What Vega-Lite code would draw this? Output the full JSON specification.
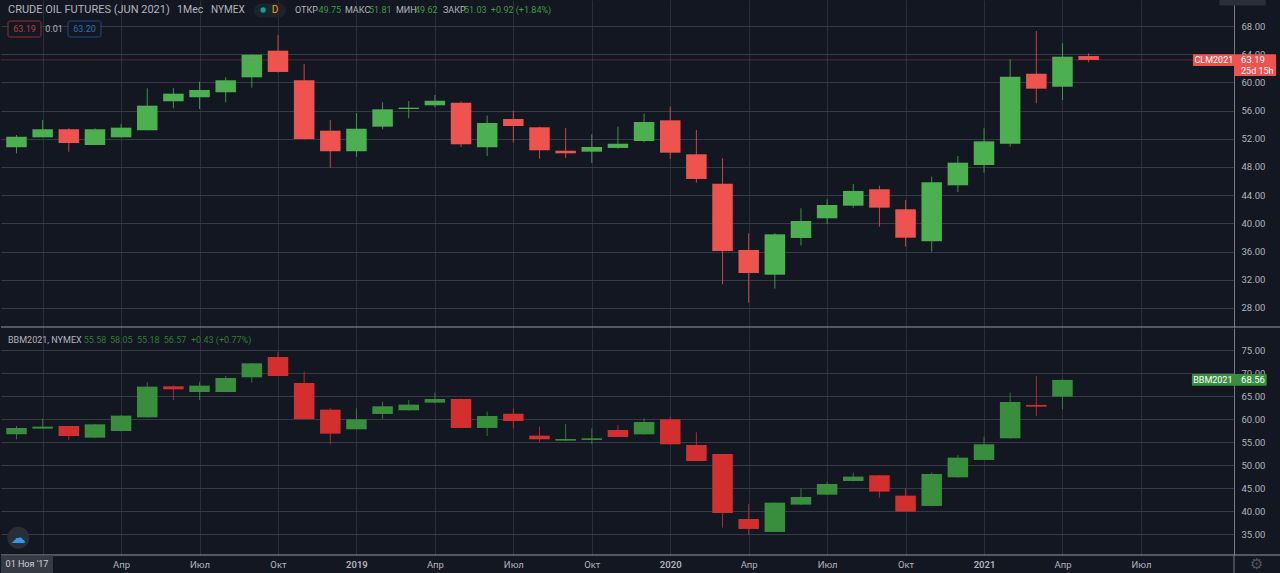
{
"$schema":"https://vega.github.io/schema/vega-lite/v6.json",
"background":"#131722",
"padding":0,
"spacing":1,
"bounds":"flush",
"resolve":{"scale":{"color":"independent"}},
"config":{"view":{"stroke":null},"font":"Roboto","text":{"font":"Roboto","fontSize":9,"align":"left","baseline":"middle"}},
"vconcat":[
{
"width":1233,"height":327,
"data":{"values":[
{"month":"2017-12","i":0,"open":50.79,"high":52.54,"low":49.94,"close":52.30,"dir":"up"},
{"month":"2018-01","i":1,"open":52.21,"high":54.67,"low":52.2,"close":53.35,"dir":"up"},
{"month":"2018-02","i":2,"open":53.35,"high":53.49,"low":50.17,"close":51.40,"dir":"down"},
{"month":"2018-03","i":3,"open":51.12,"high":53.49,"low":51.1,"close":53.35,"dir":"up"},
{"month":"2018-04","i":4,"open":52.21,"high":54.10,"low":52.2,"close":53.58,"dir":"up"},
{"month":"2018-05","i":5,"open":53.21,"high":59.16,"low":53.2,"close":56.70,"dir":"up"},
{"month":"2018-06","i":6,"open":57.32,"high":59.21,"low":56.33,"close":58.40,"dir":"up"},
{"month":"2018-07","i":7,"open":57.89,"high":60.10,"low":56.23,"close":58.92,"dir":"up"},
{"month":"2018-08","i":8,"open":58.60,"high":60.72,"low":57.18,"close":60.30,"dir":"up"},
{"month":"2018-09","i":9,"open":60.72,"high":63.95,"low":59.25,"close":63.93,"dir":"up"},
{"month":"2018-10","i":10,"open":64.50,"high":66.72,"low":61.4,"close":61.48,"dir":"down"},
{"month":"2018-11","i":11,"open":60.30,"high":62.61,"low":51.9,"close":51.97,"dir":"down"},
{"month":"2018-12","i":12,"open":53.15,"high":54.67,"low":47.90,"close":50.23,"dir":"down"},
{"month":"2019-01","i":13,"open":50.23,"high":55.66,"low":49.46,"close":53.43,"dir":"up"},
{"month":"2019-02","i":14,"open":53.72,"high":57.18,"low":53.35,"close":56.18,"dir":"up"},
{"month":"2019-03","i":15,"open":56.23,"high":57.36,"low":54.91,"close":56.41,"dir":"up"},
{"month":"2019-04","i":16,"open":56.75,"high":58.21,"low":56.47,"close":57.40,"dir":"up"},
{"month":"2019-05","i":17,"open":57.12,"high":57.26,"low":50.84,"close":51.22,"dir":"down"},
{"month":"2019-06","i":18,"open":50.80,"high":55.28,"low":49.56,"close":54.24,"dir":"up"},
{"month":"2019-07","i":19,"open":54.81,"high":55.99,"low":51.45,"close":53.82,"dir":"down"},
{"month":"2019-08","i":20,"open":53.63,"high":53.7,"low":49.18,"close":50.37,"dir":"down"},
{"month":"2019-09","i":21,"open":50.31,"high":53.53,"low":49.28,"close":49.94,"dir":"down"},
{"month":"2019-10","i":22,"open":50.17,"high":52.64,"low":48.57,"close":50.84,"dir":"up"},
{"month":"2019-11","i":23,"open":50.70,"high":53.72,"low":50.6,"close":51.30,"dir":"up"},
{"month":"2019-12","i":24,"open":51.69,"high":55.56,"low":51.5,"close":54.38,"dir":"up"},
{"month":"2020-01","i":25,"open":54.62,"high":56.55,"low":49.18,"close":50.03,"dir":"down"},
{"month":"2020-02","i":26,"open":49.80,"high":53.25,"low":45.77,"close":46.30,"dir":"down"},
{"month":"2020-03","i":27,"open":45.63,"high":49.23,"low":31.36,"close":36.09,"dir":"down"},
{"month":"2020-04","i":28,"open":36.23,"high":38.60,"low":28.75,"close":32.96,"dir":"down"},
{"month":"2020-05","i":29,"open":32.72,"high":38.6,"low":30.74,"close":38.45,"dir":"up"},
{"month":"2020-06","i":30,"open":37.93,"high":42.14,"low":36.89,"close":40.34,"dir":"up"},
{"month":"2020-07","i":31,"open":40.72,"high":43.42,"low":39.91,"close":42.61,"dir":"up"},
{"month":"2020-08","i":32,"open":42.51,"high":45.59,"low":42.23,"close":44.60,"dir":"up"},
{"month":"2020-09","i":33,"open":44.84,"high":45.35,"low":39.53,"close":42.23,"dir":"down"},
{"month":"2020-10","i":34,"open":42.00,"high":43.32,"low":36.70,"close":37.97,"dir":"down"},
{"month":"2020-11","i":35,"open":37.46,"high":46.62,"low":35.99,"close":45.83,"dir":"up"},
{"month":"2020-12","i":36,"open":45.40,"high":49.56,"low":44.45,"close":48.61,"dir":"up"},
{"month":"2021-01","i":37,"open":48.28,"high":53.49,"low":47.19,"close":51.64,"dir":"up"},
{"month":"2021-02","i":38,"open":51.30,"high":63.28,"low":50.88,"close":60.81,"dir":"up"},
{"month":"2021-03","i":39,"open":61.23,"high":67.29,"low":57.04,"close":59.11,"dir":"down"},
{"month":"2021-04","i":40,"open":59.39,"high":65.55,"low":57.50,"close":63.65,"dir":"up"},
{"month":"2021-05","i":41,"open":63.74,"high":64.13,"low":62.85,"close":63.19,"dir":"down"}
]},
"layer":[
{"mark":{"type":"rule","strokeWidth":1,"opacity":0.8},
 "encoding":{
  "x":{"field":"i","type":"quantitative","scale":{"domain":[-0.593,46.56],"nice":false,"zero":false,"padding":0},
   "axis":{"orient":"bottom","title":null,"tickCount":40,"values":[1,4,7,10,13,16,19,22,25,28,31,34,37,40,43],"labels":false,"ticks":false,"domain":false,"grid":true,"gridColor":"#2a2e39"}},
  "y":{"field":"low","type":"quantitative","scale":{"domain":[25.3,71.69],"nice":false,"zero":false,"padding":0},
   "axis":{"orient":"right","title":null,"tickCount":20,"values":[28,32,36,40,44,48,52,56,60,64,68],"format":".2f","labelOverlap":false,"labelFlush":false,"grid":true,"gridColor":"#363a45","domain":true,"domainColor":"#787b86","ticks":false,"labelColor":"#b2b5be","labelFontSize":9.5,"labelPadding":7,"labelFont":"Roboto"}},
  "y2":{"field":"high"},
  "color":{"field":"dir","type":"nominal","scale":{"domain":["up","down"],"range":["#4caf50","#ef5350"]},"legend":null}}},
{"mark":{"type":"bar","size":20.5},
 "encoding":{
  "x":{"field":"i","type":"quantitative"},
  "y":{"field":"open","type":"quantitative"},
  "y2":{"field":"close"},
  "color":{"field":"dir","type":"nominal"}}},
{"data":{"values":[{"series":"last"}]},"mark":{"type":"rule","color":"#ef5350","opacity":0.3},
 "encoding":{"y":{"datum":63.19,"type":"quantitative"}}},
{"data":{"values":[{"series":"sep"}]},"mark":{"type":"rule","color":"#9598a1"},
 "encoding":{"x":{"datum":-0.593,"type":"quantitative"},"x2":{"datum":48.36},"y":{"datum":25.3,"type":"quantitative"}}},
{"data":{"values":[{"series":"stub"}]},"mark":{"type":"rect","fill":"#2a2e39"},
 "encoding":{"x":{"datum":46.0,"type":"quantitative"},"x2":{"datum":47.78},"y":{"datum":71.69,"type":"quantitative"},"y2":{"datum":70.9}}},
{"data":{"values":[{"series":"pill"}]},"mark":{"type":"rect","fill":"#1e222d","cornerRadius":7},
 "encoding":{"x":{"datum":9.08,"type":"quantitative"},"x2":{"datum":10.3},"y":{"datum":71.2,"type":"quantitative"},"y2":{"datum":69.2}}},
{"data":{"values":[{"series":"dot"}]},"mark":{"type":"point","filled":true,"color":"#00a59a","size":28,"opacity":1},
 "encoding":{"x":{"datum":9.43,"type":"quantitative"},"y":{"datum":70.27,"type":"quantitative"}}},
{"data":{"values":[{"series":"t"}]},"mark":{"type":"text","color":"#ff9800","align":"center","fontSize":10},
 "encoding":{"x":{"datum":9.885,"type":"quantitative"},"y":{"datum":70.27,"type":"quantitative"},"text":{"value":"D"}}},
{"data":{"values":[{"series":"t"}]},"mark":{"type":"text","color":"#b2b5be","fontSize":11},
 "encoding":{"x":{"datum":-0.325,"type":"quantitative"},"y":{"datum":70.27,"type":"quantitative"},"text":{"value":"CRUDE OIL FUTURES (JUN 2021)"}}},
{"data":{"values":[{"series":"t"}]},"mark":{"type":"text","color":"#b2b5be","fontSize":10.5},
 "encoding":{"x":{"datum":6.14,"type":"quantitative"},"y":{"datum":70.27,"type":"quantitative"},"text":{"value":"1Мес"}}},
{"data":{"values":[{"series":"t"}]},"mark":{"type":"text","color":"#b2b5be","fontSize":10},
 "encoding":{"x":{"datum":7.44,"type":"quantitative"},"y":{"datum":70.27,"type":"quantitative"},"text":{"value":"NYMEX"}}},
{"data":{"values":[{"series":"t"}]},"mark":{"type":"text","color":"#b2b5be"},
 "encoding":{"x":{"datum":10.65,"type":"quantitative"},"y":{"datum":70.27,"type":"quantitative"},"text":{"value":"ОТКР"}}},
{"data":{"values":[{"series":"t"}]},"mark":{"type":"text","color":"#3f9a48"},
 "encoding":{"x":{"datum":11.55,"type":"quantitative"},"y":{"datum":70.27,"type":"quantitative"},"text":{"value":"49.75"}}},
{"data":{"values":[{"series":"t"}]},"mark":{"type":"text","color":"#b2b5be"},
 "encoding":{"x":{"datum":12.56,"type":"quantitative"},"y":{"datum":70.27,"type":"quantitative"},"text":{"value":"МАКС"}}},
{"data":{"values":[{"series":"t"}]},"mark":{"type":"text","color":"#3f9a48"},
 "encoding":{"x":{"datum":13.48,"type":"quantitative"},"y":{"datum":70.27,"type":"quantitative"},"text":{"value":"51.81"}}},
{"data":{"values":[{"series":"t"}]},"mark":{"type":"text","color":"#b2b5be"},
 "encoding":{"x":{"datum":14.51,"type":"quantitative"},"y":{"datum":70.27,"type":"quantitative"},"text":{"value":"МИН"}}},
{"data":{"values":[{"series":"t"}]},"mark":{"type":"text","color":"#3f9a48"},
 "encoding":{"x":{"datum":15.24,"type":"quantitative"},"y":{"datum":70.27,"type":"quantitative"},"text":{"value":"49.62"}}},
{"data":{"values":[{"series":"t"}]},"mark":{"type":"text","color":"#b2b5be"},
 "encoding":{"x":{"datum":16.31,"type":"quantitative"},"y":{"datum":70.27,"type":"quantitative"},"text":{"value":"ЗАКР"}}},
{"data":{"values":[{"series":"t"}]},"mark":{"type":"text","color":"#3f9a48"},
 "encoding":{"x":{"datum":17.11,"type":"quantitative"},"y":{"datum":70.27,"type":"quantitative"},"text":{"value":"51.03"}}},
{"data":{"values":[{"series":"t"}]},"mark":{"type":"text","color":"#3f9a48"},
 "encoding":{"x":{"datum":18.14,"type":"quantitative"},"y":{"datum":70.27,"type":"quantitative"},"text":{"value":"+0.92 (+1.84%)"}}},
{"data":{"values":[{"series":"b"}]},"mark":{"type":"rect","fill":"#131722","stroke":"#8f2f33","cornerRadius":2},
 "encoding":{"x":{"datum":-0.325,"type":"quantitative"},"x2":{"datum":0.937},"y":{"datum":68.71,"type":"quantitative"},"y2":{"datum":66.44}}},
{"data":{"values":[{"series":"b"}]},"mark":{"type":"rect","fill":"#131722","stroke":"#1d4e80","cornerRadius":2},
 "encoding":{"x":{"datum":1.97,"type":"quantitative"},"x2":{"datum":3.23},"y":{"datum":68.71,"type":"quantitative"},"y2":{"datum":66.44}}},
{"data":{"values":[{"series":"t"}]},"mark":{"type":"text","color":"#b5403f","align":"center"},
 "encoding":{"x":{"datum":0.306,"type":"quantitative"},"y":{"datum":67.57,"type":"quantitative"},"text":{"value":"63.19"}}},
{"data":{"values":[{"series":"t"}]},"mark":{"type":"text","color":"#b2b5be","align":"center"},
 "encoding":{"x":{"datum":1.434,"type":"quantitative"},"y":{"datum":67.57,"type":"quantitative"},"text":{"value":"0.01"}}},
{"data":{"values":[{"series":"t"}]},"mark":{"type":"text","color":"#2a70b0","align":"center"},
 "encoding":{"x":{"datum":2.6,"type":"quantitative"},"y":{"datum":67.57,"type":"quantitative"},"text":{"value":"63.20"}}},
{"data":{"values":[{"series":"tag"}]},"mark":{"type":"rect","fill":"#ef5350","cornerRadius":1},
 "encoding":{"x":{"datum":44.99,"type":"quantitative"},"x2":{"datum":46.56},"y":{"datum":63.99,"type":"quantitative"},"y2":{"datum":62.33}}},
{"data":{"values":[{"series":"tag"}]},"mark":{"type":"rect","fill":"#ef5350","cornerRadius":1},
 "encoding":{"x":{"datum":46.56,"type":"quantitative"},"x2":{"datum":48.17},"y":{"datum":63.99,"type":"quantitative"},"y2":{"datum":60.91}}},
{"data":{"values":[{"series":"t"}]},"mark":{"type":"text","color":"#ffffff","align":"center"},
 "encoding":{"x":{"datum":45.79,"type":"quantitative"},"y":{"datum":63.15,"type":"quantitative"},"text":{"value":"CLM2021"}}},
{"data":{"values":[{"series":"t"}]},"mark":{"type":"text","color":"#ffffff","fontSize":9.5},
 "encoding":{"x":{"datum":46.83,"type":"quantitative"},"y":{"datum":63.15,"type":"quantitative"},"text":{"value":"63.19"}}},
{"data":{"values":[{"series":"t"}]},"mark":{"type":"text","color":"#ffffff"},
 "encoding":{"x":{"datum":46.83,"type":"quantitative"},"y":{"datum":61.62,"type":"quantitative"},"text":{"value":"25d 15h"}}}
]},
{
"width":1233,"height":227,
"data":{"values":[
{"month":"2017-12","i":0,"open":56.74,"high":58.54,"low":55.65,"close":58.11,"dir":"up"},
{"month":"2018-01","i":1,"open":57.97,"high":60.14,"low":57.9,"close":58.41,"dir":"up"},
{"month":"2018-02","i":2,"open":58.55,"high":58.6,"low":55.51,"close":56.38,"dir":"down"},
{"month":"2018-03","i":3,"open":56.01,"high":59.0,"low":55.95,"close":58.91,"dir":"up"},
{"month":"2018-04","i":4,"open":57.46,"high":60.9,"low":57.4,"close":60.80,"dir":"up"},
{"month":"2018-05","i":5,"open":60.43,"high":68.04,"low":60.4,"close":67.10,"dir":"up"},
{"month":"2018-06","i":6,"open":67.17,"high":67.39,"low":64.20,"close":66.52,"dir":"down"},
{"month":"2018-07","i":7,"open":65.94,"high":68.19,"low":64.2,"close":67.32,"dir":"up"},
{"month":"2018-08","i":8,"open":65.94,"high":69.42,"low":65.9,"close":68.99,"dir":"up"},
{"month":"2018-09","i":9,"open":69.13,"high":72.2,"low":67.97,"close":72.17,"dir":"up"},
{"month":"2018-10","i":10,"open":73.55,"high":74.71,"low":69.4,"close":69.42,"dir":"down"},
{"month":"2018-11","i":11,"open":67.90,"high":70.36,"low":60.0,"close":60.07,"dir":"down"},
{"month":"2018-12","i":12,"open":62.10,"high":62.4,"low":54.64,"close":56.88,"dir":"down"},
{"month":"2019-01","i":13,"open":57.83,"high":62.39,"low":57.8,"close":60.0,"dir":"up"},
{"month":"2019-02","i":14,"open":61.16,"high":63.84,"low":60.07,"close":62.83,"dir":"up"},
{"month":"2019-03","i":15,"open":61.96,"high":64.20,"low":61.9,"close":63.19,"dir":"up"},
{"month":"2019-04","i":16,"open":63.62,"high":65.80,"low":63.48,"close":64.42,"dir":"up"},
{"month":"2019-05","i":17,"open":64.42,"high":64.5,"low":58.1,"close":58.12,"dir":"down"},
{"month":"2019-06","i":18,"open":58.12,"high":61.67,"low":56.38,"close":60.72,"dir":"up"},
{"month":"2019-07","i":19,"open":61.23,"high":62.39,"low":58.04,"close":59.64,"dir":"down"},
{"month":"2019-08","i":20,"open":56.45,"high":58.41,"low":54.93,"close":55.65,"dir":"down"},
{"month":"2019-09","i":21,"open":55.36,"high":58.99,"low":55.3,"close":55.72,"dir":"up"},
{"month":"2019-10","i":22,"open":55.51,"high":58.04,"low":54.64,"close":55.87,"dir":"up"},
{"month":"2019-11","i":23,"open":57.68,"high":58.70,"low":56.1,"close":56.16,"dir":"down"},
{"month":"2019-12","i":24,"open":56.74,"high":60.22,"low":56.7,"close":59.42,"dir":"up"},
{"month":"2020-01","i":25,"open":60.0,"high":60.58,"low":54.5,"close":54.57,"dir":"down"},
{"month":"2020-02","i":26,"open":54.42,"high":57.17,"low":50.9,"close":50.94,"dir":"down"},
{"month":"2020-03","i":27,"open":52.46,"high":52.5,"low":36.45,"close":39.64,"dir":"down"},
{"month":"2020-04","i":28,"open":38.33,"high":41.59,"low":34.86,"close":36.16,"dir":"down"},
{"month":"2020-05","i":29,"open":35.51,"high":41.9,"low":35.5,"close":41.88,"dir":"up"},
{"month":"2020-06","i":30,"open":41.45,"high":45.0,"low":41.4,"close":43.12,"dir":"up"},
{"month":"2020-07","i":31,"open":43.62,"high":46.45,"low":43.6,"close":45.94,"dir":"up"},
{"month":"2020-08","i":32,"open":46.59,"high":48.41,"low":46.5,"close":47.54,"dir":"up"},
{"month":"2020-09","i":33,"open":47.83,"high":47.9,"low":42.97,"close":44.28,"dir":"down"},
{"month":"2020-10","i":34,"open":43.41,"high":45.0,"low":39.9,"close":39.93,"dir":"down"},
{"month":"2020-11","i":35,"open":41.16,"high":48.41,"low":41.1,"close":48.12,"dir":"up"},
{"month":"2020-12","i":36,"open":47.39,"high":52.25,"low":47.3,"close":51.67,"dir":"up"},
{"month":"2021-01","i":37,"open":51.16,"high":56.23,"low":51.1,"close":54.57,"dir":"up"},
{"month":"2021-02","i":38,"open":55.87,"high":65.80,"low":55.8,"close":63.77,"dir":"up"},
{"month":"2021-03","i":39,"open":63.12,"high":69.42,"low":60.72,"close":62.75,"dir":"down"},
{"month":"2021-04","i":40,"open":64.93,"high":68.7,"low":62.17,"close":68.56,"dir":"up"}
]},
"layer":[
{"mark":{"type":"rule","strokeWidth":1,"opacity":0.8},
 "encoding":{
  "x":{"field":"i","type":"quantitative","scale":{"domain":[-0.593,46.56],"nice":false,"zero":false,"padding":0},
   "axis":{"orient":"bottom","title":null,"tickCount":40,"values":[1,4,7,10,13,16,19,22,25,28,31,34,37,40,43],"labelExpr":"datum.value==1?'':datum.value==13?'2019':datum.value==25?'2020':datum.value==37?'2021':(datum.value-1)%12==3?'Апр':(datum.value-1)%12==6?'Июл':'Окт'","labelFontWeight":{"condition":{"test":"datum.value==13||datum.value==25||datum.value==37","value":600},"value":400},"labelOverlap":false,"labelFlush":false,"ticks":false,"domain":false,"grid":true,"gridColor":"#2a2e39","labelColor":"#b2b5be","labelFontSize":9.5,"labelPadding":4,"labelFont":"Roboto"}},
  "y":{"field":"low","type":"quantitative","scale":{"domain":[30.5,79.85],"nice":false,"zero":false,"padding":0},
   "axis":{"orient":"right","title":null,"tickCount":20,"values":[35,40,45,50,55,60,65,70,75],"format":".2f","labelOverlap":false,"labelFlush":false,"grid":true,"gridColor":"#363a45","domain":true,"domainColor":"#787b86","ticks":false,"labelColor":"#b2b5be","labelFontSize":9.5,"labelPadding":7,"labelFont":"Roboto"}},
  "y2":{"field":"high"},
  "color":{"field":"dir","type":"nominal","scale":{"domain":["up","down"],"range":["#388e3c","#d32f2f"]},"legend":null}}},
{"mark":{"type":"bar","size":20.5},
 "encoding":{
  "x":{"field":"i","type":"quantitative"},
  "y":{"field":"open","type":"quantitative"},
  "y2":{"field":"close"},
  "color":{"field":"dir","type":"nominal"}}},
{"data":{"values":[{"series":"sep"}]},"mark":{"type":"rule","color":"#9598a1"},
 "encoding":{"x":{"datum":-0.593,"type":"quantitative"},"x2":{"datum":48.36},"y":{"datum":30.5,"type":"quantitative"}}},
{"data":{"values":[{"series":"sep"}]},"mark":{"type":"rule","color":"#787b86"},
 "encoding":{"x":{"datum":46.56,"type":"quantitative"},"y":{"datum":30.5,"type":"quantitative"},"y2":{"datum":26.59}}},
{"data":{"values":[{"series":"x"}]},"mark":{"type":"rect","fill":"#363a45"},
 "encoding":{"x":{"datum":-0.593,"type":"quantitative"},"x2":{"datum":1.396},"y":{"datum":30.4,"type":"quantitative"},"y2":{"datum":26.59}}},
{"data":{"values":[{"series":"t"}]},"mark":{"type":"text","color":"#d1d4dc","align":"center"},
 "encoding":{"x":{"datum":0.4,"type":"quantitative"},"y":{"datum":28.55,"type":"quantitative"},"text":{"value":"01 Ноя '17"}}},
{"data":{"values":[{"series":"t"}]},"mark":{"type":"text","color":"#50535e","align":"center","fontSize":15,"font":"DejaVu Sans"},
 "encoding":{"x":{"datum":47.43,"type":"quantitative"},"y":{"datum":28.55,"type":"quantitative"},"text":{"value":"⚙"}}},
{"data":{"values":[{"series":"logo"}]},"mark":{"type":"point","filled":true,"color":"#2a2e39","size":484,"opacity":1},
 "encoding":{"x":{"datum":0.07,"type":"quantitative"},"y":{"datum":34.26,"type":"quantitative"}}},
{"data":{"values":[{"series":"t"}]},"mark":{"type":"text","color":"#2f9be8","align":"center","fontSize":15,"font":"DejaVu Sans"},
 "encoding":{"x":{"datum":0.07,"type":"quantitative"},"y":{"datum":34.26,"type":"quantitative"},"text":{"value":"☁"}}},
{"data":{"values":[{"series":"t"}]},"mark":{"type":"text","color":"#b2b5be"},
 "encoding":{"x":{"datum":-0.325,"type":"quantitative"},"y":{"datum":77.24,"type":"quantitative"},"text":{"value":"BBM2021, NYMEX"}}},
{"data":{"values":[{"series":"t"}]},"mark":{"type":"text","color":"#2e7d32"},
 "encoding":{"x":{"datum":2.57,"type":"quantitative"},"y":{"datum":77.24,"type":"quantitative"},"text":{"value":"55.58"}}},
{"data":{"values":[{"series":"t"}]},"mark":{"type":"text","color":"#2e7d32"},
 "encoding":{"x":{"datum":3.575,"type":"quantitative"},"y":{"datum":77.24,"type":"quantitative"},"text":{"value":"58.05"}}},
{"data":{"values":[{"series":"t"}]},"mark":{"type":"text","color":"#2e7d32"},
 "encoding":{"x":{"datum":4.61,"type":"quantitative"},"y":{"datum":77.24,"type":"quantitative"},"text":{"value":"55.18"}}},
{"data":{"values":[{"series":"t"}]},"mark":{"type":"text","color":"#2e7d32"},
 "encoding":{"x":{"datum":5.63,"type":"quantitative"},"y":{"datum":77.24,"type":"quantitative"},"text":{"value":"56.57"}}},
{"data":{"values":[{"series":"t"}]},"mark":{"type":"text","color":"#2e7d32"},
 "encoding":{"x":{"datum":6.67,"type":"quantitative"},"y":{"datum":77.24,"type":"quantitative"},"text":{"value":"+0.43 (+0.77%)"}}},
{"data":{"values":[{"series":"tag"}]},"mark":{"type":"rect","fill":"#388e3c","cornerRadius":1},
 "encoding":{"x":{"datum":44.95,"type":"quantitative"},"x2":{"datum":47.81},"y":{"datum":69.85,"type":"quantitative"},"y2":{"datum":67.3}}},
{"data":{"values":[{"series":"t"}]},"mark":{"type":"text","color":"#ffffff","align":"center"},
 "encoding":{"x":{"datum":45.75,"type":"quantitative"},"y":{"datum":68.54,"type":"quantitative"},"text":{"value":"BBM2021"}}},
{"data":{"values":[{"series":"t"}]},"mark":{"type":"text","color":"#ffffff","fontSize":9.5},
 "encoding":{"x":{"datum":46.83,"type":"quantitative"},"y":{"datum":68.54,"type":"quantitative"},"text":{"value":"68.56"}}}
]}
]
}
